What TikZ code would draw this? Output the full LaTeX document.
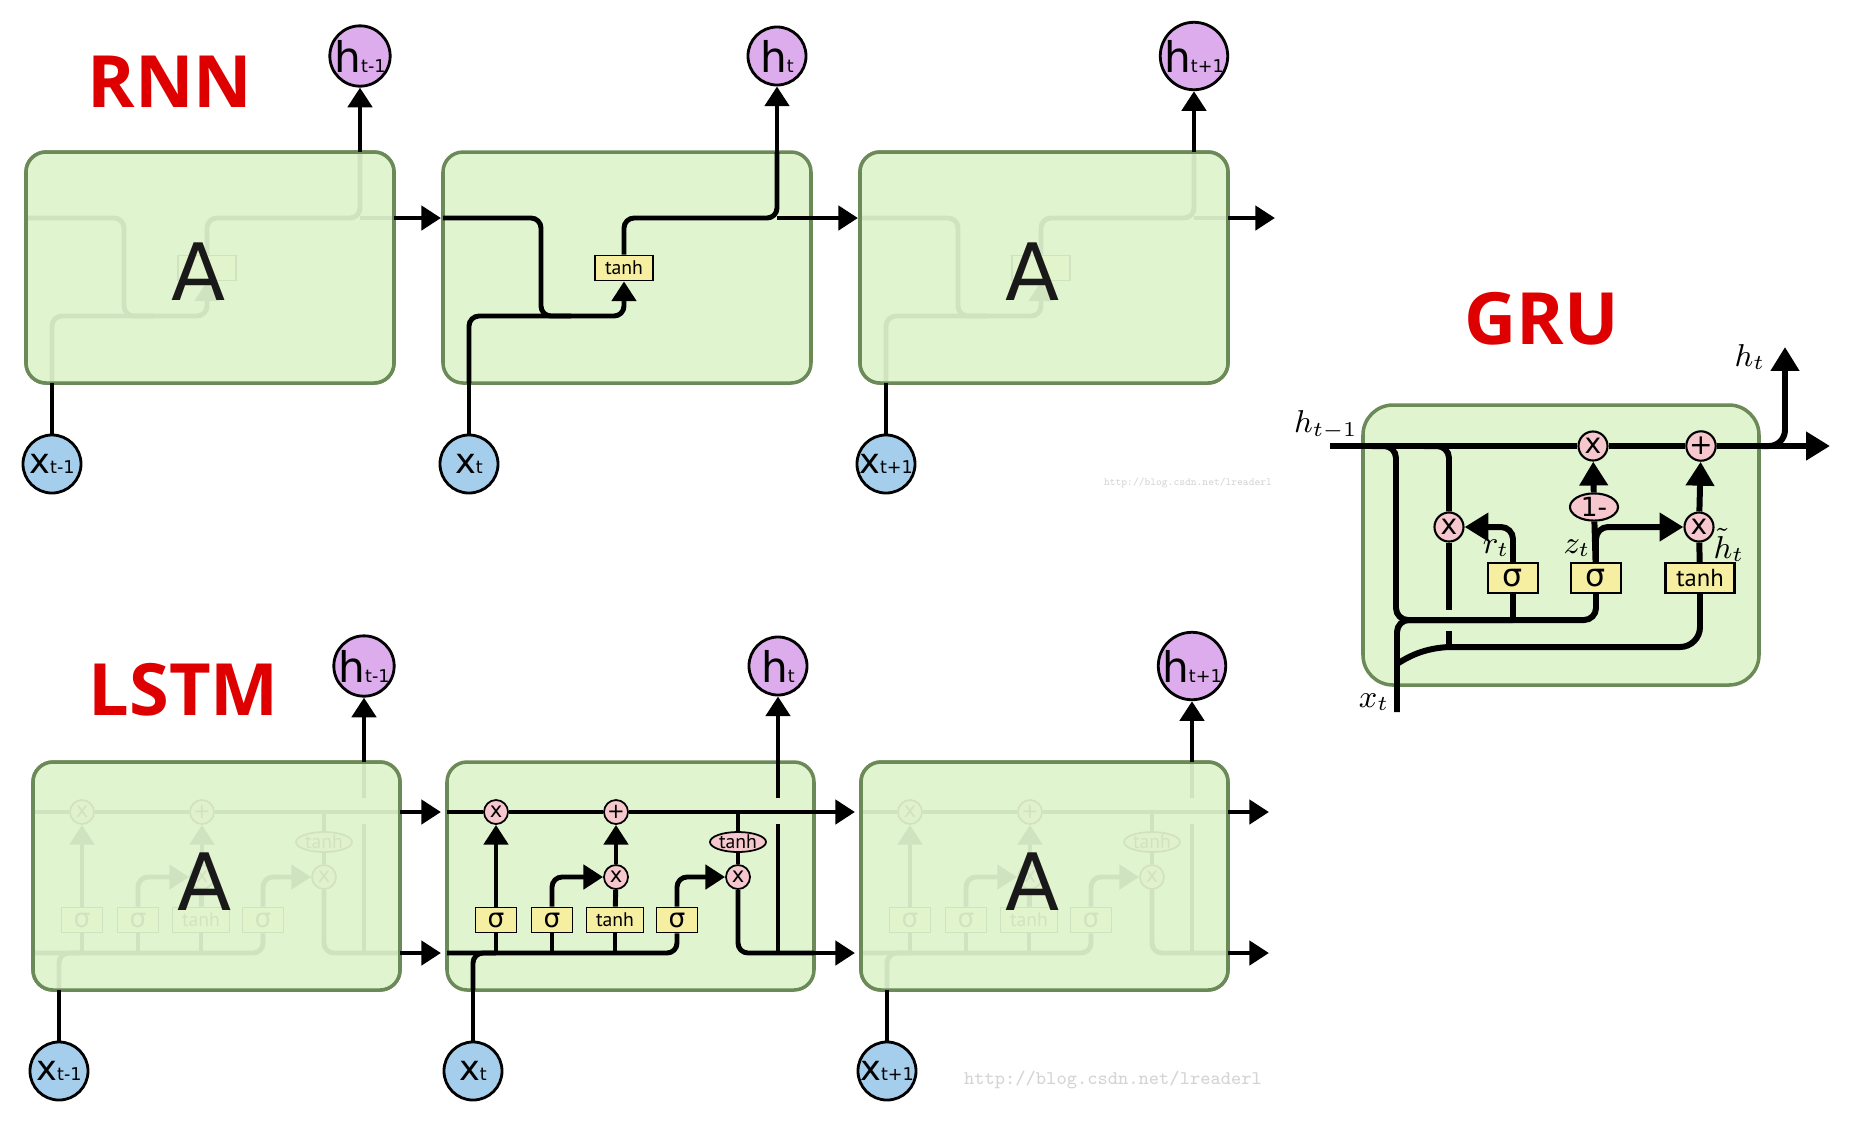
\documentclass[tikz,border=0pt]{standalone}
\usepackage[no-math]{fontspec}
\setmainfont{DejaVu Sans}
\newfontfamily\narrowfont{PT Sans}
\newfontfamily\titlefont{Open Sans}
\usepackage{xcolor}
\usetikzlibrary{arrows.meta,positioning,shapes.geometric}

\definecolor{cellfill}{RGB}{224,245,207}
\definecolor{cellline}{RGB}{108,138,88}
\definecolor{hpurple}{RGB}{221,172,236}
\definecolor{xblue}{RGB}{165,206,236}
\definecolor{oppink}{RGB}{246,200,205}
\definecolor{gateyellow}{RGB}{246,238,160}
\definecolor{titlered}{RGB}{222,0,0}

\begin{document}
\begin{tikzpicture}[
    x=0.01cm, y=-0.01cm,
    cellbox/.style={draw=cellline, fill=cellfill, line width=1pt, rounded corners=2mm},
    fadebox/.style={fill=cellfill, fill opacity=0.93, rounded corners=2mm},
    wire/.style={line width=1.4pt, rounded corners=1mm},
    arr/.style={-{Triangle[length=5.6pt,width=6.8pt]}},
    hnode/.style={circle, draw, line width=0.8pt, fill=hpurple, minimum size=0.58cm, inner sep=0pt, font=\fontsize{12}{12}\selectfont},
    xnode/.style={hnode, fill=xblue, font=\fontsize{10}{10}\selectfont},
    op/.style={circle, draw, line width=0.5pt, fill=oppink, minimum size=0.24cm, inner sep=0pt, font=\fontsize{6}{6}\selectfont},
    opell/.style={ellipse, draw, line width=0.5pt, fill=oppink, minimum width=0.56cm, minimum height=0.2cm, inner sep=0pt, font=\narrowfont\fontsize{5.6}{5.6}\selectfont},
    gate/.style={rectangle, draw, line width=0.5pt, fill=gateyellow, minimum width=0.41cm, minimum height=0.25cm, inner sep=0pt, font=\fontsize{7.5}{7.5}\selectfont},
    tanhgate/.style={gate, minimum width=0.57cm, font=\narrowfont\fontsize{5.6}{5.6}\selectfont},
    bigA/.style={anchor=base, inner sep=0pt, text=black!90, font=\fontsize{22.5}{22.5}\selectfont},
    title/.style={anchor=base west, inner sep=0pt, text=titlered, font=\titlefont\bfseries\fontsize{20.5}{20.5}\selectfont},
    gwire/.style={line width=1.7pt, rounded corners=1.2mm},
    garr/.style={-{Triangle[length=6.8pt,width=7.8pt]}},
    gop/.style={circle, draw, line width=0.6pt, fill=oppink, minimum size=0.29cm, inner sep=0pt, font=\fontsize{8}{8}\selectfont},
    gell/.style={ellipse, draw, line width=0.6pt, fill=oppink, minimum width=0.48cm, minimum height=0.27cm, inner sep=0pt, font=\fontsize{7.5}{7.5}\selectfont},
    ggate/.style={rectangle, draw, line width=0.6pt, fill=gateyellow, minimum width=0.5cm, minimum height=0.3cm, inner sep=0pt, font=\fontsize{9}{9}\selectfont},
    mlabel/.style={inner sep=0pt, font=\fontsize{9}{9}\selectfont},
    wm/.style={inner sep=0pt, text=black!17, font=\ttfamily}
]
\useasboundingbox (0,0) rectangle (1856,1120);

% titles
\node[title] (trnn) at (87,107) {RNN};
\node[title] (tlstm) at (88,715) {LSTM};
\node[title] (tgru) at (1464,344) {GRU};

% RNN chain
\foreach \i/\px/\fade/\sub in {1/26/1/t-1, 2/443/0/t, 3/860/1/t+1}{
  \path[cellbox] (\px,152) rectangle (\px+368,383);
  \coordinate (rw\i) at (\px,218);
  \coordinate (re\i) at (\px+368,218);
  \coordinate (rn\i) at (\px+415,218);
  \coordinate (rb\i) at (\px+26,383);
  \coordinate (rt\i) at (\px+334,152);
  \coordinate (rd\i) at (\px+98,316);
  \ifnum\fade=1
    \node[tanhgate, minimum width=0.58cm] (rg\i) at (\px+181,268) {};
  \else
    \node[tanhgate, minimum width=0.58cm] (rg\i) at (\px+181,268) {tanh};
  \fi
  \node[hnode] (rh\i) at (\px+334,56) {h{\fontsize{5}{5}\selectfont\sub}};
  \node[xnode] (rx\i) at (\px+26,464) {x{\fontsize{5}{5}\selectfont\sub}};
  \draw[wire] (rw\i) -| (rd\i) -- ++(30,0);
  \draw[wire, arr] (rb\i) |- (rg\i.south |- rd\i) -- (rg\i);
  \draw[wire] (rg\i) |- (rt\i |- rw\i) -- (rt\i);
  \draw[wire] (rt\i |- rw\i) -- (re\i);
  \ifnum\fade=1
    \path[fadebox] (\px,152) rectangle (\px+368,383);
    \draw[cellline, line width=1pt, rounded corners=2mm] (\px,152) rectangle (\px+368,383);
    \node[bigA] (ra\i) at (\px+173,300) {A};
  \fi
  \draw[wire, arr] (re\i) -- (rn\i);
  \draw[wire, arr] (rt\i) -- (rh\i);
  \draw[wire] (rx\i) -- (rb\i);
}

% LSTM chain
\foreach \i/\px/\fade/\sub in {1/33/1/t-1, 2/447/0/t, 3/861/1/t+1}{
  \path[cellbox] (\px,762) rectangle (\px+367,990);
  \coordinate (lcw\i) at (\px,812);
  \coordinate (lce\i) at (\px+367,812);
  \coordinate (lcn\i) at (\px+408,812);
  \coordinate (lhw\i) at (\px,953);
  \coordinate (lhe\i) at (\px+367,953);
  \coordinate (lhn\i) at (\px+408,953);
  \coordinate (lb\i) at (\px+26,990);
  \coordinate (lt\i) at (\px+331,762);
  \coordinate (lgb\i) at (\px+331,824);
  \coordinate (lga\i) at (\px+331,798);
  \node[op] (lf\i) at (\px+49,812) {x};
  \node[op] (lp\i) at (\px+169,812) {+};
  \node[op] (li\i) at (\px+169,877) {x};
  \node[op] (lo\i) at (\px+291,877) {x};
  \node[opell] (lc\i) at (\px+291,842) {tanh};
  \node[gate] (lsf\i) at (\px+49,920) {σ};
  \node[gate] (lsi\i) at (\px+105,920) {σ};
  \node[tanhgate] (lg\i) at (\px+168,920) {tanh};
  \node[gate] (lso\i) at (\px+230,920) {σ};
  \node[hnode] (lh\i) at (\px+331,666) {h{\fontsize{5}{5}\selectfont\sub}};
  \node[xnode] (lx\i) at (\px+26,1071) {x{\fontsize{5}{5}\selectfont\sub}};
  \draw[wire] (lcw\i) -- (lf\i) -- (lp\i) -- (lce\i);
  \draw[wire] (lc\i.north |- lcw\i) -- (lc\i);
  \draw[wire] (lc\i) -- (lo\i);
  \draw[wire] (lo\i) |- (lhe\i);
  \draw[wire] (lhw\i) -| (lso\i);
  \draw[wire] (lsf\i) -- (lsf\i |- lhw\i);
  \draw[wire] (lsi\i) -- (lsi\i |- lhw\i);
  \draw[wire] (lg\i) -- (lg\i |- lhw\i);
  \draw[wire] (lb\i) |- (lsf\i |- lhw\i);
  \draw[wire, arr] (lsf\i) -- (lf\i);
  \draw[wire, arr] (lsi\i) |- (li\i);
  \draw[wire] (lg\i) -- (li\i);
  \draw[wire, arr] (li\i) -- (lp\i);
  \draw[wire, arr] (lso\i) |- (lo\i);
  \draw[wire] (lt\i |- lhw\i) -- (lgb\i);
  \draw[wire] (lga\i) -- (lt\i);
  \ifnum\fade=1
    \path[fadebox] (\px,762) rectangle (\px+367,990);
    \draw[cellline, line width=1pt, rounded corners=2mm] (\px,762) rectangle (\px+367,990);
    \node[bigA] (la\i) at (\px+172,910) {A};
  \fi
  \draw[wire, arr] (lce\i) -- (lcn\i);
  \draw[wire, arr] (lhe\i) -- (lhn\i);
  \draw[wire, arr] (lt\i) -- (lh\i);
  \draw[wire] (lx\i) -- (lb\i);
}

% GRU cell
\path[cellbox, rounded corners=3mm] (1363,405) rectangle (1759,685);
\coordinate (gin) at (1330,446);
\coordinate (gout) at (1830,446);
\coordinate (gturn) at (1762,446);
\coordinate (gup) at (1785,347);
\coordinate (gb1) at (1372,446);
\coordinate (gb2) at (1424,446);
\coordinate (gj1) at (1396,620);
\coordinate (gj2) at (1449,647);
\coordinate (gcut1) at (1449,610);
\coordinate (gcut2) at (1449,631);
\coordinate (gxin) at (1397,712);
\coordinate (gxb) at (1397,664);
\node[gop] (gz) at (1593,446) {x};
\node[gop] (gadd) at (1701,446) {+};
\node[gell] (gone) at (1594,507) {1-};
\node[gop] (grm) at (1449,527) {x};
\node[gop] (ghm) at (1699,527) {x};
\node[ggate] (gsr) at (1513,578) {σ};
\node[ggate] (gsz) at (1596,578) {σ};
\node[ggate, minimum width=0.69cm, font=\narrowfont\fontsize{7}{7}\selectfont] (gtanh) at (1700,578) {tanh};

\draw[gwire] (gin) -- (gz) -- (gadd);
\draw[gwire, garr] (gadd) -- (gout);
\draw[gwire, garr, rounded corners=1.6mm] (gturn) -| (gup);
\draw[gwire] (gb1) -| (gj1) -| (gsz);
\draw[gwire] (gsr) -- (gsr |- gj1);
\draw[gwire] (gxin) |- (gsr |- gj1);
\draw[gwire] (gb2) -| (grm);
\draw[gwire] (grm) -- (gcut1);
\draw[gwire] (gcut2) -- (gj2);
\draw[gwire] (gxb) .. controls (1412,654) and (1428,648) .. (gj2);
\draw[gwire, rounded corners=2mm] (gj2) -| (gtanh);
\draw[gwire, garr] (gsr) |- (grm);
\draw[gwire] (gsz) -- (gone);
\draw[gwire, garr] (gsz) |- (ghm);
\draw[gwire, garr] (gone) -- (gz);
\draw[gwire] (gtanh) -- (ghm);
\draw[gwire, garr] (ghm) -- (gadd);

\node[mlabel] (lhprev) at (1326,425) {$h_{t-1}$};
\node[mlabel] (lhnow) at (1750,357) {$h_t$};
\node[mlabel] (lrt) at (1496,548) {$r_t$};
\node[mlabel] (lzt) at (1577,548) {$z_t$};
\node[mlabel] (lhc) at (1729,545) {$\tilde{h}_t$};
\node[mlabel] (lxt) at (1374,702) {$x_t$};

% watermarks
\node[wm, font=\ttfamily\fontsize{3.1}{3.1}\selectfont] (wm1) at (1188,483) {http://blog.csdn.net/lreaderl};
\node[wm, font=\ttfamily\fontsize{5.5}{5.5}\selectfont] (wm2) at (1113,1080) {http://blog.csdn.net/lreaderl};
\end{tikzpicture}
\end{document}
